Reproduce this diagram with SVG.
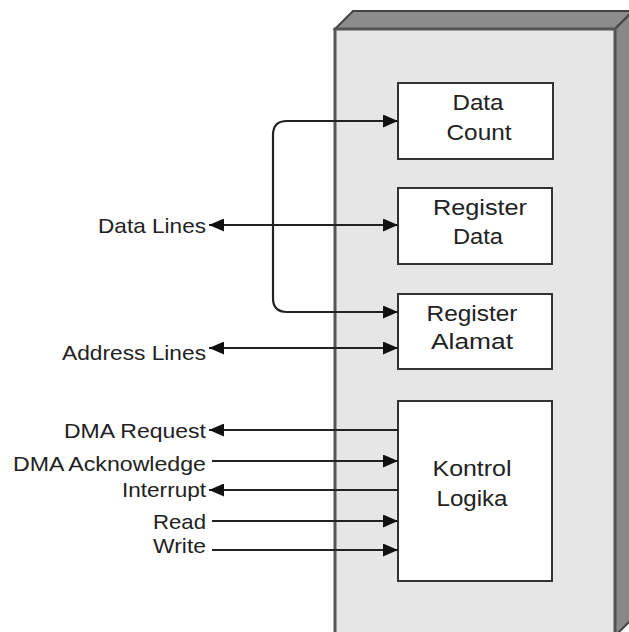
<svg xmlns="http://www.w3.org/2000/svg" width="629" height="632" viewBox="0 0 629 632">
<style>
text{font-family:"Liberation Sans",Arial,sans-serif;font-size:21px;fill:#222}
.box{fill:#fff;stroke:#333;stroke-width:2}
.box + text, .bt{font-size:22.5px}
.c{text-anchor:middle}
.r{text-anchor:end}
.ln{fill:none;stroke:#222;stroke-width:2.2}
</style>
<defs>
<marker id="ah" viewBox="0 0 15 13" refX="15" refY="6.5" markerWidth="15" markerHeight="13" markerUnits="userSpaceOnUse" orient="auto-start-reverse">
<path d="M0,0 L15,6.5 L0,13 Z" fill="#111"/>
</marker>
</defs>
<rect width="629" height="632" fill="#fff"/>
<g id="chassis">
<polygon points="335,29 353,11 633,11 615,29" fill="#8c8c8c" stroke="#444" stroke-width="2"/>
<polygon points="615,29 633,11 633,618 615,636" fill="#888" stroke="#444" stroke-width="2"/>
<rect x="335" y="29" width="280" height="610" fill="#e6e6e6" stroke="#555" stroke-width="3"/>
</g>
<g id="data-count">
<rect class="box" x="398" y="83" width="155" height="76"/>
<text class="c bt" x="478" y="110" textLength="51" lengthAdjust="spacingAndGlyphs">Data</text>
<text class="c bt" x="479" y="140" textLength="65" lengthAdjust="spacingAndGlyphs">Count</text>
</g>
<g id="register-data">
<rect class="box" x="398" y="188" width="154" height="76"/>
<text class="c bt" x="480" y="215" textLength="94" lengthAdjust="spacingAndGlyphs">Register</text>
<text class="c bt" x="478" y="244" textLength="50" lengthAdjust="spacingAndGlyphs">Data</text>
</g>
<g id="register-alamat">
<rect class="box" x="398" y="294" width="154" height="75"/>
<text class="c bt" x="472" y="321" textLength="91" lengthAdjust="spacingAndGlyphs">Register</text>
<text class="c bt" x="472" y="349" textLength="82" lengthAdjust="spacingAndGlyphs">Alamat</text>
</g>
<g id="kontrol-logika">
<rect class="box" x="398" y="401" width="154" height="180"/>
<text class="c bt" x="472" y="476" textLength="79" lengthAdjust="spacingAndGlyphs">Kontrol</text>
<text class="c bt" x="472" y="506" textLength="71" lengthAdjust="spacingAndGlyphs">Logika</text>
</g>
<g id="labels">
<text class="r" x="206" y="233" textLength="108" lengthAdjust="spacingAndGlyphs">Data Lines</text>
<text class="r" x="206" y="360" textLength="144" lengthAdjust="spacingAndGlyphs">Address Lines</text>
<text class="r" x="206" y="438" textLength="142" lengthAdjust="spacingAndGlyphs">DMA Request</text>
<text class="r" x="206" y="471" textLength="193" lengthAdjust="spacingAndGlyphs">DMA Acknowledge</text>
<text class="r" x="206" y="497" textLength="84" lengthAdjust="spacingAndGlyphs">Interrupt</text>
<text class="r" x="206" y="529" textLength="53" lengthAdjust="spacingAndGlyphs">Read</text>
<text class="r" x="206" y="553" textLength="53" lengthAdjust="spacingAndGlyphs">Write</text>
</g>
<g id="connectors">
<path class="ln" d="M398,121 H287 Q273,121 273,135 V298 Q273,312 287,312 H398" marker-start="url(#ah)" marker-end="url(#ah)"/>
<line class="ln" x1="209" y1="225" x2="398" y2="225" marker-start="url(#ah)" marker-end="url(#ah)"/>
<line class="ln" x1="209" y1="348" x2="398" y2="348" marker-start="url(#ah)" marker-end="url(#ah)"/>
<line class="ln" x1="398" y1="430" x2="209" y2="430" marker-end="url(#ah)"/>
<line class="ln" x1="212" y1="461" x2="398" y2="461" marker-end="url(#ah)"/>
<line class="ln" x1="398" y1="490" x2="209" y2="490" marker-end="url(#ah)"/>
<line class="ln" x1="212" y1="521" x2="398" y2="521" marker-end="url(#ah)"/>
<line class="ln" x1="212" y1="550" x2="398" y2="550" marker-end="url(#ah)"/>
</g>
</svg>
